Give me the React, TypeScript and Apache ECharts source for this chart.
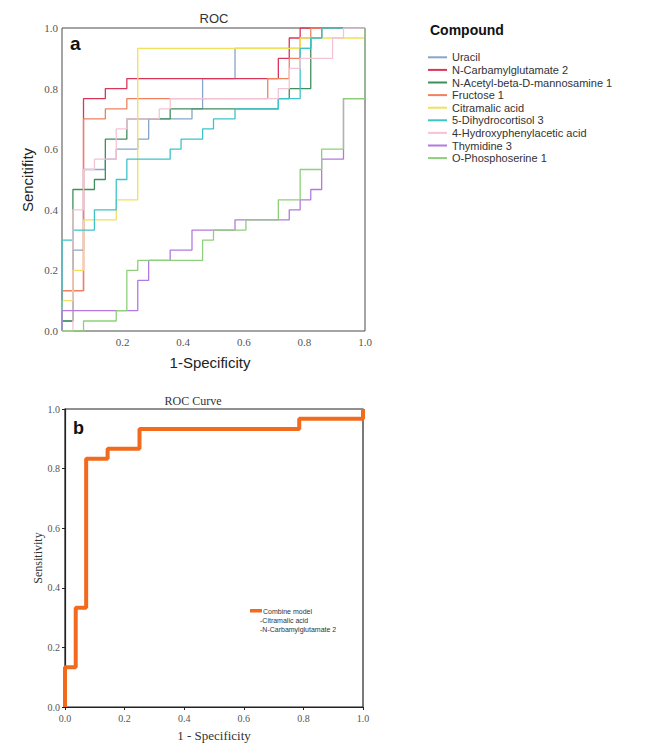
import React, { useEffect, useRef } from "react";
import * as echarts from "echarts";

// ---------- data ----------
const compoundNames = [
  "Uracil",
  "N-Carbamylglutamate 2",
  "N-Acetyl-beta-D-mannosamine 1",
  "Fructose 1",
  "Citramalic acid",
  "5-Dihydrocortisol 3",
  "4-Hydroxyphenylacetic acid",
  "Thymidine 3",
  "O-Phosphoserine 1",
];

const uracil = [[0,0],[0,0.033],[0.036,0.033],[0.036,0.267],[0.071,0.267],[0.071,0.533],[0.143,0.533],[0.143,0.567],[0.179,0.567],[0.179,0.6],[0.25,0.6],[0.25,0.633],[0.286,0.633],[0.286,0.7],[0.429,0.7],[0.429,0.733],[0.464,0.733],[0.464,0.833],[0.571,0.833],[0.571,0.933],[0.821,0.933],[0.821,0.967],[0.857,0.967],[0.857,1],[1,1]];
const nCarbamylglutamate2 = [[0,0],[0,0.133],[0.071,0.133],[0.071,0.767],[0.143,0.767],[0.143,0.8],[0.214,0.8],[0.214,0.833],[0.714,0.833],[0.714,0.9],[0.75,0.9],[0.75,0.967],[0.786,0.967],[0.786,1],[1,1]];
const nAcetylMannosamine1 = [[0,0],[0,0.033],[0.036,0.033],[0.036,0.467],[0.107,0.467],[0.107,0.5],[0.143,0.5],[0.143,0.633],[0.214,0.633],[0.214,0.7],[0.357,0.7],[0.357,0.733],[0.714,0.733],[0.714,0.767],[0.75,0.767],[0.75,0.8],[0.821,0.8],[0.821,0.967],[0.857,0.967],[0.857,1],[1,1]];
const fructose1 = [[0,0],[0,0.133],[0.071,0.133],[0.071,0.7],[0.143,0.7],[0.143,0.733],[0.214,0.733],[0.214,0.767],[0.679,0.767],[0.679,0.833],[0.75,0.833],[0.75,0.9],[0.786,0.9],[0.786,0.967],[0.821,0.967],[0.821,1],[1,1]];
const citramalicAcid = [[0,0],[0,0.1],[0.036,0.1],[0.036,0.2],[0.071,0.2],[0.071,0.367],[0.179,0.367],[0.179,0.433],[0.25,0.433],[0.25,0.933],[0.786,0.933],[0.786,0.967],[1,0.967],[1,1]];
const dihydrocortisol3 = [[0,0],[0,0.3],[0.036,0.3],[0.036,0.333],[0.107,0.333],[0.107,0.4],[0.179,0.4],[0.179,0.5],[0.214,0.5],[0.214,0.567],[0.357,0.567],[0.357,0.6],[0.393,0.6],[0.393,0.633],[0.464,0.633],[0.464,0.667],[0.5,0.667],[0.5,0.7],[0.571,0.7],[0.571,0.733],[0.714,0.733],[0.714,0.767],[0.786,0.767],[0.786,0.933],[0.821,0.933],[0.821,0.967],[0.857,0.967],[0.857,1],[1,1]];
const hydroxyphenylacetic = [[0,0],[0.036,0],[0.036,0.4],[0.071,0.4],[0.071,0.533],[0.107,0.533],[0.107,0.567],[0.179,0.567],[0.179,0.667],[0.214,0.667],[0.214,0.7],[0.321,0.7],[0.321,0.733],[0.357,0.733],[0.357,0.767],[0.714,0.767],[0.714,0.8],[0.75,0.8],[0.75,0.867],[0.786,0.867],[0.786,0.9],[0.893,0.9],[0.893,0.967],[0.929,0.967],[0.929,1],[1,1]];
const thymidine3 = [[0,0],[0,0.067],[0.25,0.067],[0.25,0.167],[0.286,0.167],[0.286,0.233],[0.357,0.233],[0.357,0.267],[0.429,0.267],[0.429,0.333],[0.571,0.333],[0.571,0.367],[0.75,0.367],[0.75,0.4],[0.786,0.4],[0.786,0.433],[0.821,0.433],[0.821,0.467],[0.857,0.467],[0.857,0.567],[0.929,0.567],[0.929,0.767],[1,0.767],[1,1]];
const oPhosphoserine1 = [[0,0],[0.071,0],[0.071,0.033],[0.179,0.033],[0.179,0.067],[0.214,0.067],[0.214,0.2],[0.25,0.2],[0.25,0.233],[0.464,0.233],[0.464,0.3],[0.5,0.3],[0.5,0.333],[0.607,0.333],[0.607,0.367],[0.714,0.367],[0.714,0.433],[0.786,0.433],[0.786,0.533],[0.857,0.533],[0.857,0.6],[0.929,0.6],[0.929,0.767],[1,0.767],[1,1]];

const compoundCurves = [
  uracil,
  nCarbamylglutamate2,
  nAcetylMannosamine1,
  fructose1,
  citramalicAcid,
  dihydrocortisol3,
  hydroxyphenylacetic,
  thymidine3,
  oPhosphoserine1,
];

const combineModelName = "Combine model";
const combineModelParts = ["-Citramalic acid", "-N-Carbamylglutamate 2"];
const combineModel = [[0,0],[0,0.133],[0.036,0.133],[0.036,0.333],[0.071,0.333],[0.071,0.833],[0.143,0.833],[0.143,0.867],[0.25,0.867],[0.25,0.933],[0.786,0.933],[0.786,0.967],[1,0.967],[1,1]];

// ---------- styles ----------
const compoundColors = [
  "#86a6c9",
  "#d8365a",
  "#3f8f5c",
  "#f0825f",
  "#f0e05a",
  "#3ec3cb",
  "#f5c4d4",
  "#b27ae0",
  "#8dcf7b",
];
const orange = "#f26b1d";
const serif = "Liberation Serif";
const sans = "Liberation Sans";

function buildOption() {
  const series: any[] = compoundNames.map((name, i) => ({
    type: "line",
    name,
    xAxisIndex: 0,
    yAxisIndex: 0,
    data: compoundCurves[i],
    symbol: "none",
    lineStyle: { width: 1.3, color: compoundColors[i] },
    itemStyle: { color: compoundColors[i] },
    z: 2,
  }));
  series.push({
    type: "line",
    name: combineModelName,
    xAxisIndex: 1,
    yAxisIndex: 1,
    data: combineModel,
    symbol: "none",
    lineStyle: { width: 4, color: orange },
    itemStyle: { color: orange },
    z: 2,
  });

  return {
    animation: false,
    backgroundColor: "#ffffff",
    grid: [
      { left: 62, top: 28, width: 303, height: 303, show: true, borderColor: "#4a4a4a", borderWidth: 1, backgroundColor: "transparent" },
      { left: 65, top: 409, width: 298, height: 298, show: true, borderColor: "#222", borderWidth: 1.2, backgroundColor: "transparent" },
    ],
    xAxis: [
      {
        gridIndex: 0, type: "value", min: 0, max: 1, interval: 0.2,
        axisLine: { show: false }, axisTick: { show: false }, splitLine: { show: false },
        axisLabel: { formatter: (v: number) => (v === 0 ? "" : v.toFixed(1)), fontFamily: serif, fontSize: 11, color: "#555", margin: 5 },
      },
      {
        gridIndex: 1, type: "value", min: 0, max: 1, interval: 0.2,
        axisLine: { show: true, lineStyle: { color: "#222", width: 1.2 } },
        axisTick: { show: true, length: 3, lineStyle: { color: "#222" } },
        splitLine: { show: false },
        axisLabel: { formatter: (v: number) => v.toFixed(1), fontFamily: serif, fontSize: 10, color: "#555", margin: 6 },
      },
    ],
    yAxis: [
      {
        gridIndex: 0, type: "value", min: 0, max: 1, interval: 0.2,
        axisLine: { show: false }, axisTick: { show: false }, splitLine: { show: false },
        axisLabel: { formatter: (v: number) => v.toFixed(1), fontFamily: serif, fontSize: 11, color: "#555", margin: 4 },
      },
      {
        gridIndex: 1, type: "value", min: 0, max: 1, interval: 0.2,
        axisLine: { show: true, lineStyle: { color: "#222", width: 1.2 } },
        axisTick: { show: true, length: 3, lineStyle: { color: "#222" } },
        splitLine: { show: false },
        axisLabel: { formatter: (v: number) => v.toFixed(1), fontFamily: serif, fontSize: 10, color: "#555", margin: 5 },
      },
    ],
    legend: [
      {
        orient: "vertical",
        left: 428,
        top: 51,
        padding: 0,
        itemGap: 0,
        itemWidth: 19,
        itemHeight: 2,
        icon: "rect",
        selectedMode: false,
        data: compoundNames,
        textStyle: { fontSize: 11, color: "#333", fontFamily: sans, lineHeight: 12.6 },
      },
    ],
    graphic: [
      { type: "text", x: 214, y: 18, style: { text: "ROC", fontSize: 13, fontFamily: sans, fill: "#333", textAlign: "center", textVerticalAlign: "middle" } },
      { type: "text", x: 70, y: 43, style: { text: "a", fontSize: 19, fontWeight: "bold", fontFamily: sans, fill: "#111", textAlign: "left", textVerticalAlign: "middle" } },
      { type: "text", x: 27, y: 180, rotation: Math.PI / 2, style: { text: "Sencitifity", fontSize: 15, fontFamily: sans, fill: "#222", textAlign: "center", textVerticalAlign: "middle" } },
      { type: "text", x: 210, y: 362, style: { text: "1-Specificity", fontSize: 15, fontFamily: sans, fill: "#222", textAlign: "center", textVerticalAlign: "middle" } },
      { type: "text", x: 430, y: 30, style: { text: "Compound", fontSize: 14, fontWeight: "bold", fontFamily: sans, fill: "#111", textAlign: "left", textVerticalAlign: "middle" } },
      { type: "text", x: 193, y: 401, style: { text: "ROC Curve", fontSize: 12, fontFamily: serif, fill: "#333", textAlign: "center", textVerticalAlign: "middle" } },
      { type: "text", x: 73, y: 428, style: { text: "b", fontSize: 18, fontWeight: "bold", fontFamily: sans, fill: "#111", textAlign: "left", textVerticalAlign: "middle" } },
      { type: "text", x: 38, y: 558, rotation: Math.PI / 2, style: { text: "Sensitivity", fontSize: 12, fontFamily: serif, fill: "#333", textAlign: "center", textVerticalAlign: "middle" } },
      { type: "text", x: 214, y: 735, style: { text: "1 - Specificity", fontSize: 13, fontFamily: serif, fill: "#333", textAlign: "center", textVerticalAlign: "middle" } },
      { type: "rect", shape: { x: 250, y: 609, width: 12, height: 3.5 }, style: { fill: orange } },
      { type: "text", x: 263, y: 611, style: { text: combineModelName, fontSize: 7, fontFamily: sans, fill: "#333", textAlign: "left", textVerticalAlign: "middle" } },
      ...combineModelParts.map((t, i) => ({
        type: "text", x: 260, y: 620 + i * 9.5,
        style: { text: t, fontSize: 7, fontFamily: sans, fill: "#333", textAlign: "left", textVerticalAlign: "middle" },
      })),
    ],
    series,
  };
}

export default function App() {
  const ref = useRef<HTMLDivElement>(null);
  useEffect(() => {
    if (!ref.current) return;
    const chart = echarts.init(ref.current, null, { renderer: "svg" });
    chart.setOption(buildOption() as any);
    return () => chart.dispose();
  }, []);
  return (
    <div
      ref={ref}
      style={{ position: "absolute", left: 0, top: 0, width: 650, height: 755, background: "#fff" }}
    />
  );
}
